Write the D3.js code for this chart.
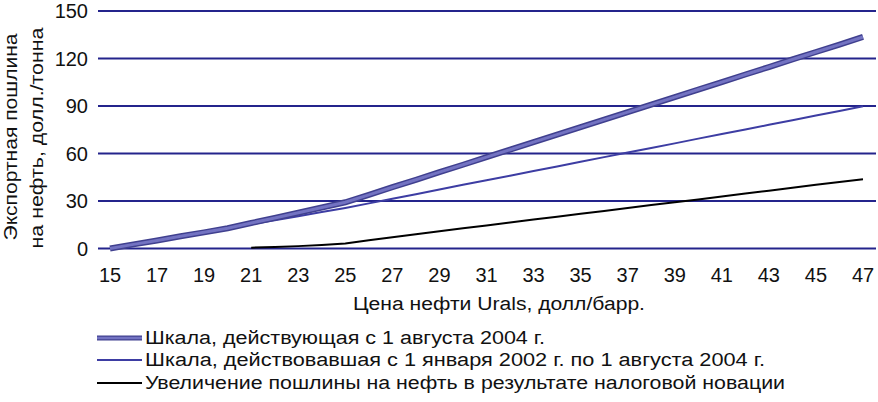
<!DOCTYPE html>
<html><head><meta charset="utf-8">
<script src="https://cdn.jsdelivr.net/npm/d3@7"></script>
<style>body{margin:0;background:#fff}svg{display:block}text{font-family:"Liberation Sans",Arial,sans-serif;fill:#111}</style>
</head><body><svg id="c" width="878" height="402"></svg>
<script>
const prices = [15,16,17,18,19,20,21,22,23,24,25,26,27,28,29,30,31,32,33,34,35,36,37,38,39,40,41,42,43,44,45,46,47];
const newScale = [0,2.6,5.1,7.7,10.2,12.8,16.1,19.3,22.6,25.9,29.2,33.9,38.7,43.4,48.2,52.9,57.7,62.4,67.2,71.9,76.7,81.4,86.1,90.9,95.6,100.4,105.1,109.9,114.6,119.4,124.1,128.8,133.6];
const oldScale = [0,2.6,5.1,7.7,10.2,12.8,15.3,17.9,20.4,23.0,25.6,28.5,31.4,34.3,37.2,40.2,43.1,46.0,48.9,51.8,54.8,57.7,60.6,63.5,66.4,69.4,72.3,75.2,78.1,81.0,84.0,86.9,89.8];
const increase = [null,null,null,null,null,null,0.5,1.0,1.5,2.2,3.2,5.2,7.1,9.0,10.9,12.8,14.6,16.4,18.3,20.1,21.9,23.7,25.6,27.4,29.2,31.0,32.9,34.7,36.5,38.3,40.2,42.0,43.8];
const yTicks = [0,30,60,90,120,150];
const xTickLabels = [15,17,19,21,23,25,27,29,31,33,35,37,39,41,43,45,47];
const yTitle = ["Экспортная пошлина","на нефть, долл./тонна"];
const xTitle = "Цена нефти Urals, долл/барр.";
const legendLabels = ["Шкала, действующая с 1 августа 2004 г.","Шкала, действовавшая с 1 января 2002 г. по 1 августа 2004 г.","Увеличение пошлины на нефть в результате налоговой новации"];

const svg = d3.select("#c");
const x = d3.scalePoint().domain(prices).range([110,863]);
const y = d3.scaleLinear().domain([0,150]).range([248.5,11]);

// gridlines
svg.append("g").selectAll("line").data(yTicks).join("line")
  .attr("x1",98).attr("x2",876).attr("y1",d=>y(d)).attr("y2",d=>y(d))
  .attr("stroke","#24248c").attr("stroke-width",2);

// y tick labels
svg.append("g").selectAll("text").data(yTicks).join("text")
  .attr("x",88).attr("y",d=>y(d)).attr("dy","0.36em").attr("text-anchor","end")
  .attr("font-size",20).text(d=>d);

// x tick labels
svg.append("g").selectAll("text").data(xTickLabels).join("text")
  .attr("x",d=>x(d)).attr("y",282).attr("text-anchor","middle")
  .attr("font-size",20).text(d=>d);

// axis titles
svg.append("text").attr("x",353).attr("y",310).attr("font-size",18)
  .attr("textLength",292).attr("lengthAdjust","spacingAndGlyphs").text(xTitle);
svg.append("text").attr("transform","translate(17,137) rotate(-90)").attr("text-anchor","middle")
  .attr("font-size",19).attr("textLength",207).attr("lengthAdjust","spacingAndGlyphs").text(yTitle[0]);
svg.append("text").attr("transform","translate(43,138) rotate(-90)").attr("text-anchor","middle")
  .attr("font-size",19).attr("textLength",221).attr("lengthAdjust","spacingAndGlyphs").text(yTitle[1]);

const line = d3.line().defined(d=>d[1]!=null).x(d=>x(d[0])).y(d=>y(d[1]));
const pts = arr => prices.map((p,i)=>[p,arr[i]]);

svg.append("path").attr("d",line(pts(increase))).attr("fill","none").attr("stroke","#000").attr("stroke-width",2);
svg.append("path").attr("d",line(pts(oldScale))).attr("fill","none").attr("stroke","#3d3da3").attr("stroke-width",2);
svg.append("path").attr("d",line(pts(newScale))).attr("fill","none").attr("stroke","#40408f").attr("stroke-width",6);
svg.append("path").attr("d",line(pts(newScale))).attr("fill","none").attr("stroke","#7373c2").attr("stroke-width",3);

// legend
const legY = [338,360,383];
const legLen = [400,620,640];
const lg = svg.append("g");
legendLabels.forEach((t,i)=>{
  if(i===0){
    lg.append("line").attr("x1",97).attr("x2",142).attr("y1",legY[i]).attr("y2",legY[i]).attr("stroke","#40408f").attr("stroke-width",5);
    lg.append("line").attr("x1",97).attr("x2",142).attr("y1",legY[i]).attr("y2",legY[i]).attr("stroke","#7373c2").attr("stroke-width",2.5);
  } else {
    lg.append("line").attr("x1",97).attr("x2",142).attr("y1",legY[i]).attr("y2",legY[i])
      .attr("stroke",i===1?"#3d3da3":"#000").attr("stroke-width",2);
  }
  lg.append("text").attr("x",145).attr("y",legY[i]).attr("dy","0.36em").attr("font-size",18)
    .attr("textLength",legLen[i]).attr("lengthAdjust","spacingAndGlyphs").text(t);
});
</script></body></html>
